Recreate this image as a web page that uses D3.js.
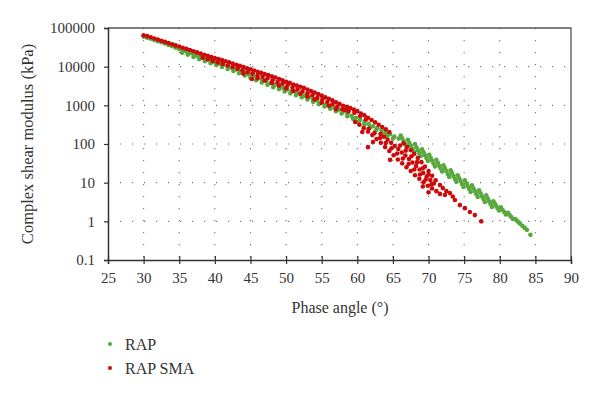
<!DOCTYPE html>
<html>
<head>
<meta charset="utf-8">
<script src="https://d3js.org/d3.v7.min.js"></script>
<style>
  body { margin: 0; background: #fff; }
  text { font-family: 'Liberation Serif', 'DejaVu Serif', serif; fill: #333; }
</style>
</head>
<body>
<script>
// Data: [phase angle (deg), complex shear modulus (kPa)]
const xTicks = [25, 30, 35, 40, 45, 50, 55, 60, 65, 70, 75, 80, 85, 90]
const yTicks = [0.1, 1, 10, 100, 1000, 10000, 100000]
const seriesNames = ['RAP', 'RAP SMA']

const rapPoints = [
  [30.0, 60000], [30.5, 56200], [31.0, 52500], [31.5, 49000], [32.0, 45700], [32.5, 42700],
  [33.0, 39800], [33.5, 36300], [34.0, 33900], [34.5, 30900], [35.0, 28800], [35.5, 26300],
  [36.0, 24500], [36.5, 22400], [37.0, 20900], [37.5, 19100], [38.0, 17800], [38.5, 16200],
  [39.0, 15100], [39.5, 14100], [40.0, 13200],
  [35.4, 22900], [36.2, 20400], [37.0, 17800], [37.8, 15500], [38.6, 13800], [39.4, 12300],
  [40.2, 11000], [41.0, 9770], [41.8, 8710], [42.6, 7760], [43.4, 6760], [44.2, 5890],
  [45.0, 5130], [45.8, 4470], [46.6, 3890], [47.4, 3390], [48.2, 2950], [49.0, 2630],
  [49.8, 2290], [50.6, 2040], [51.4, 1820], [52.2, 1620], [53.0, 1410], [53.8, 1230],
  [54.6, 1070], [55.4, 933], [56.2, 813],
  [40.6, 12000], [41.2, 11200], [41.8, 10200], [42.4, 9330], [43.0, 8510], [43.6, 7760],
  [44.2, 6920], [44.8, 6310], [45.4, 5620], [46.0, 5130], [46.6, 4570], [47.2, 4170],
  [47.8, 3720], [48.4, 3390], [49.0, 3090], [49.6, 2820], [50.2, 2570], [50.8, 2340],
  [51.4, 2190], [52.0, 2000], [52.6, 1780], [53.2, 1620], [53.8, 1450], [54.4, 1320],
  [55.0, 1200], [55.6, 1070], [56.2, 955], [56.8, 871], [57.4, 776], [58.0, 692],
  [58.6, 617], [59.2, 537], [59.8, 479], [60.4, 427], [61.0, 372], [61.6, 331],
  [62.2, 288], [62.8, 257], [63.4, 224], [64.0, 200], [64.6, 178], [65.2, 155], [65.8, 138],
  [57.0, 708], [57.8, 617], [58.6, 525], [59.4, 447], [60.2, 372], [61.0, 316],
  [61.8, 269], [62.6, 224], [63.4, 191], [64.2, 162], [65.0, 138],
  [66.1, 166], [66.3, 140], [66.5, 117], [66.7, 98.9], [66.9, 83.2],
  [67.1, 129], [67.3, 108], [67.5, 91.2], [67.7, 76.7], [67.9, 64.6],
  [68.1, 100], [68.3, 82.2], [68.5, 69.2], [68.7, 58.2], [68.9, 49.0],
  [69.1, 72.4], [69.3, 61.0], [69.5, 51.3], [69.7, 43.2], [69.9, 36.3],
  [70.1, 52.5], [70.3, 44.2], [70.5, 37.2], [70.7, 31.3], [70.9, 26.3],
  [71.1, 38.9], [71.3, 32.7], [71.5, 27.5], [71.7, 23.2], [71.9, 19.5],
  [72.1, 28.2], [72.3, 23.7], [72.5, 20.0], [72.7, 16.8], [72.9, 14.1],
  [73.1, 20.9], [73.3, 17.6], [73.5, 14.8], [73.7, 12.4], [73.9, 10.5],
  [74.1, 15.5], [74.3, 13.0], [74.5, 11.0], [74.7, 9.23], [74.9, 7.76],
  [75.1, 11.5], [75.3, 9.66], [75.5, 8.13], [75.7, 6.84], [75.9, 5.75],
  [76.1, 8.51], [76.3, 7.16], [76.5, 6.03], [76.7, 5.07], [76.9, 4.27],
  [77.1, 6.31], [77.3, 5.31], [77.5, 4.47], [77.7, 3.76], [77.9, 3.16],
  [78.1, 4.68], [78.3, 3.94], [78.5, 3.31], [78.7, 2.79], [78.9, 2.34],
  [79.1, 3.31], [79.3, 2.88], [79.5, 2.51], [79.7, 2.19], [79.9, 1.91],
  [80.15, 2.29], [80.38, 2.00], [80.62, 1.74], [80.85, 1.51],
  [81.15, 1.66], [81.38, 1.45], [81.62, 1.29], [81.85, 1.15],
  [82.15, 1.15], [82.38, 1.05], [82.62, 0.955], [82.85, 0.871],
  [83.2, 0.759], [83.5, 0.676], [83.8, 0.603], [84.3, 0.447]
]

const rapSmaPoints = [
  [30.0, 64600], [30.5, 61700], [31.0, 57500], [31.5, 53700], [32.0, 50100], [32.5, 46800],
  [33.0, 43700], [33.5, 40700], [34.0, 38000], [34.5, 35500], [35.0, 33100], [35.5, 30900],
  [36.0, 28800], [36.5, 26900], [37.0, 25100], [37.5, 23400], [38.0, 21900], [38.5, 20400],
  [39.0, 19100], [39.5, 17800], [40.0, 16600], [40.5, 15800], [41.0, 14800], [41.5, 13800],
  [42.0, 12900], [42.5, 12000], [43.0, 11200], [43.5, 10500], [44.0, 9770], [44.5, 9120],
  [45.0, 8510], [45.5, 7940], [46.0, 7410], [46.5, 6920], [47.0, 6460], [47.5, 6030],
  [48.0, 5620], [48.5, 5250], [49.0, 4790], [49.5, 4470], [50.0, 4070], [50.5, 3800],
  [51.0, 3470], [51.5, 3240], [52.0, 3020], [52.5, 2820], [53.0, 2570], [53.5, 2340],
  [54.0, 2140], [54.5, 1950], [55.0, 1780], [55.5, 1620], [56.0, 1480], [56.5, 1350],
  [57.0, 1200], [57.5, 1100], [58.0, 977],
  [38.3, 17000], [39.0, 15500], [39.7, 14100], [40.4, 12900], [41.1, 11700], [41.8, 10700],
  [42.5, 9770], [43.2, 8910], [43.9, 8130], [44.6, 7240], [45.3, 6610], [46.0, 6030],
  [46.7, 5500], [47.4, 5010], [48.1, 4470], [48.8, 3980], [49.5, 3630], [50.2, 3240],
  [50.9, 2880], [51.6, 2570], [52.3, 2290], [53.0, 2040], [53.7, 1820], [54.4, 1580],
  [55.1, 1410], [55.8, 1230], [56.5, 1070], [57.2, 933], [57.9, 794],
  [44.0, 6610], [45.2, 4790], [46.0, 5010], [47.0, 4370], [48.0, 3800], [49.0, 3240],
  [50.0, 2750], [51.0, 2340], [52.0, 2000], [53.0, 1700], [54.0, 1410], [55.0, 1170],
  [56.0, 977], [57.0, 794],
  [58.5, 912], [59.0, 851], [59.5, 776], [60.0, 708], [60.5, 617], [61.0, 550],
  [61.5, 479], [62.0, 417], [62.5, 363], [63.0, 316], [63.5, 275], [64.0, 240],
  [64.5, 204], [66.5, 105], [67.0, 85.1],
  [67.5, 69.2], [68.0, 56.2], [68.5, 43.7], [69.0, 33.9], [69.5, 26.3], [70.0, 20.0],
  [70.5, 15.1], [71.0, 11.5],
  [58.8, 767], [59.6, 646], [60.4, 531], [61.2, 427],
  [66.0, 91.2], [66.8, 67.6], [67.6, 48.4], [68.4, 33.9], [69.2, 23.7], [70.0, 16.2],
  [58.25, 759], [58.75, 692], [63.25, 182], [63.75, 155],
  [64.25, 129], [64.75, 107], [65.25, 89.1], [65.75, 74.1], [66.25, 60.3], [66.75, 50.1],
  [67.25, 40.7], [67.75, 33.1], [68.25, 26.9], [68.75, 21.9], [69.25, 17.8], [69.75, 14.5],
  [70.25, 11.7], [70.75, 9.55],
  [61.6, 248], [62.4, 191], [63.2, 143],
  [64.0, 106], [64.8, 77.6], [65.6, 56.9], [66.4, 42.2], [67.2, 30.5], [68.0, 21.9],
  [68.8, 16.2], [69.6, 12.0], [70.4, 9.02],
  [59.7, 372], [60.3, 316], [60.9, 257], [61.5, 209],
  [62.1, 170], [62.7, 135], [63.3, 107], [63.9, 83.2], [64.5, 66.1], [65.1, 51.3],
  [65.7, 39.8], [66.3, 31.6], [66.9, 25.1], [67.5, 20.0], [68.1, 15.5], [68.7, 12.6],
  [69.3, 10.2], [69.9, 8.32], [70.5, 7.08], [71.1, 6.03], [71.6, 5.13],
  [71.6, 8.71], [72.0, 7.24], [72.5, 6.03], [73.0, 5.37], [72.3, 4.79], [73.4, 4.37],
  [73.7, 3.55], [74.4, 2.63], [75.1, 2.19], [75.8, 1.74], [76.5, 1.45], [77.4, 1.0],
  [61.5, 83.0], [60.7, 204], [62.2, 112], [64.6, 38.9], [69.2, 7.94], [70.0, 5.62]
]

const colors = {
  'RAP': '#58a83e',
  'RAP SMA': '#cc0a0a'
}

// Layout
const width = 600
const height = 394
const plot = { left: 108, right: 571, top: 28, bottom: 260 }
const serif = "'Liberation Serif', 'DejaVu Serif', serif"

function initializeSVG () {
  return d3.select('body')
    .append('svg')
    .attr('width', width)
    .attr('height', height)
}

function drawGrid (svg, x, y) {
  const grid = svg.append('g')
    .attr('stroke', '#777')
    .attr('stroke-width', 1.1)
    .attr('stroke-dasharray', '1.2,10.8')

  grid.selectAll('line.v')
    .data(xTicks.slice(1, -1))
    .join('line')
    .attr('x1', d => x(d))
    .attr('x2', d => x(d))
    .attr('y1', plot.top)
    .attr('y2', plot.bottom)

  grid.selectAll('line.h')
    .data(yTicks.slice(1, -1))
    .join('line')
    .attr('x1', plot.left)
    .attr('x2', plot.right)
    .attr('y1', d => y(d))
    .attr('y2', d => y(d))
}

function drawAxes (svg, x, y) {
  // frame top and right
  svg.append('path')
    .attr('d', `M${plot.left},${plot.top}H${plot.right}V${plot.bottom}`)
    .attr('fill', 'none')
    .attr('stroke', '#555')
    .attr('stroke-width', 1.3)

  const xAxis = svg.append('g')
    .attr('transform', `translate(0,${plot.bottom})`)
    .call(d3.axisBottom(x).tickValues(xTicks).tickSize(4).tickFormat(d3.format('d')))
    .attr('font-family', serif)
    .attr('font-size', 15)
  xAxis.select('.domain').attr('stroke', '#333').attr('stroke-width', 1.5)
  xAxis.selectAll('.tick line').attr('stroke', '#333').attr('stroke-width', 1.2).attr('y1', -4)
  xAxis.selectAll('.tick text')
    .attr('y', 12)
    .attr('fill', '#333')

  const yAxis = svg.append('g')
    .attr('transform', `translate(${plot.left},0)`)
    .call(d3.axisLeft(y).tickValues(yTicks).tickSize(4).tickFormat(d => d < 1 ? '0.1' : d3.format('d')(d)))
    .attr('font-family', serif)
    .attr('font-size', 15)
  yAxis.select('.domain').attr('stroke', '#333').attr('stroke-width', 1.5)
  yAxis.selectAll('.tick line').attr('stroke', '#333').attr('stroke-width', 1.2)
  yAxis.selectAll('.tick text')
    .attr('x', -13)
    .attr('fill', '#333')

  svg.append('text')
    .attr('x', 340)
    .attr('y', 313)
    .attr('text-anchor', 'middle')
    .style('font-size', '16px')
    .text('Phase angle (°)')

  svg.append('text')
    .attr('transform', `translate(33,${(plot.top + plot.bottom) / 2}) rotate(-90)`)
    .attr('text-anchor', 'middle')
    .style('font-size', '16.5px')
    .text('Complex shear modulus (kPa)')
}

function drawPoints (svg, x, y, points, color) {
  svg.append('g')
    .attr('fill', color)
    .selectAll('circle')
    .data(points)
    .join('circle')
    .attr('cx', d => x(d[0]))
    .attr('cy', d => y(d[1]))
    .attr('r', 2.3)
}

function drawLegend (svg) {
  const legend = svg.append('g')
  seriesNames.forEach((name, i) => {
    const yPos = 344 + i * 24
    legend.append('circle')
      .attr('cx', 110)
      .attr('cy', yPos)
      .attr('r', 2)
      .attr('fill', colors[name])
    legend.append('text')
      .attr('x', 125)
      .attr('y', yPos + 5.5)
      .style('font-size', '16px')
      .text(name)
  })
}

function main () {
  const svg = initializeSVG()

  const x = d3.scaleLinear().domain([25, 90]).range([plot.left, plot.right])
  const y = d3.scaleLog().domain([0.1, 100000]).range([plot.bottom, plot.top])

  drawGrid(svg, x, y)
  drawPoints(svg, x, y, rapPoints, colors['RAP'])
  drawPoints(svg, x, y, rapSmaPoints, colors['RAP SMA'])
  drawAxes(svg, x, y)
  drawLegend(svg)
}

main()
</script>
</body>
</html>
